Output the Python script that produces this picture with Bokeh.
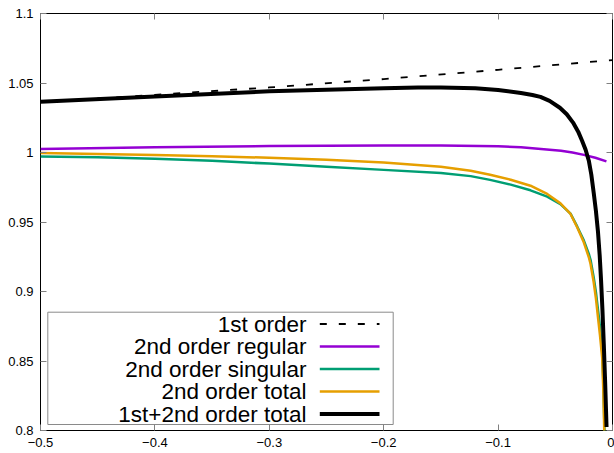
from bokeh.plotting import figure
from bokeh.models import Range1d, LinearAxis, FixedTicker, CustomJSTickFormatter
from bokeh.embed import file_html
from bokeh.resources import INLINE
from bokeh.core.properties import value

# ---------------- data ----------------
first_x = [-0.5, -0.4, -0.3, -0.2, -0.1, 0.0]
first_y = [1.0362, 1.0415, 1.0468, 1.0528, 1.0595, 1.0665]

reg_x = [-0.5, -0.4, -0.3, -0.2, -0.15, -0.1, -0.08, -0.06, -0.045, -0.035,
         -0.025, -0.015, -0.0053]
reg_y = [1.0025, 1.0037, 1.0046, 1.0051, 1.0051, 1.0045, 1.0037, 1.0024, 1.0012,
         1.0000, 0.9983, 0.9962, 0.9936]

sing_x = [-0.5, -0.45, -0.4, -0.35, -0.3, -0.25, -0.2, -0.15, -0.124, -0.107,
          -0.089, -0.0717, -0.0571, -0.0455, -0.0367, -0.0309, -0.0251, -0.0207,
          -0.0192, -0.0165, -0.0145, -0.0125, -0.011, -0.009, -0.008, -0.0072,
          -0.0053]
sing_y = [0.9972, 0.9965, 0.9955, 0.9940, 0.9920, 0.9898, 0.9875, 0.9852, 0.9830,
          0.9803, 0.9769, 0.9728, 0.9682, 0.9628, 0.9560, 0.9468, 0.9368, 0.9270,
          0.9228, 0.9105, 0.8995, 0.8855, 0.8750, 0.8570, 0.8340, 0.8070, 0.7400]

tot2_x = [-0.5, -0.45, -0.4, -0.35, -0.3, -0.25, -0.2, -0.15, -0.124, -0.107,
          -0.089, -0.0717, -0.0571, -0.0455, -0.0367, -0.0309, -0.0251, -0.0207,
          -0.0192, -0.0165, -0.0145, -0.0125, -0.011, -0.009, -0.008, -0.0072,
          -0.0053]
tot2_y = [0.9996, 0.9990, 0.9982, 0.9973, 0.9962, 0.9948, 0.9928, 0.9898, 0.9869,
          0.9840, 0.9804, 0.9761, 0.9702, 0.9634, 0.9558, 0.9462, 0.9354, 0.9246,
          0.9198, 0.9070, 0.8950, 0.8800, 0.8690, 0.8520, 0.8280, 0.8000, 0.7300]

tot12_x = [-0.5, -0.4, -0.3, -0.25, -0.2, -0.17, -0.15, -0.12, -0.1, -0.08, -0.07,
           -0.063, -0.055, -0.046, -0.04, -0.0345, -0.03, -0.0266, -0.0235,
           -0.0207, -0.0185, -0.0163, -0.0145, -0.0127, -0.0112, -0.0100, -0.0088,
           -0.0076, -0.0064, -0.0052]
tot12_y = [1.0365, 1.0403, 1.0440, 1.0452, 1.0462, 1.0467, 1.0468, 1.0462, 1.0450,
           1.0428, 1.0414, 1.0400, 1.0372, 1.0322, 1.0275, 1.0215, 1.0150, 1.0085,
           1.0020, 0.9941, 0.9840, 0.9702, 0.9580, 0.9430, 0.9260, 0.9080, 0.8870,
           0.8620, 0.8340, 0.8025]

series_labels = ["1st order", "2nd order regular", "2nd order singular",
                 "2nd order total", "1st+2nd order total"]
x_ticks = [-0.5, -0.4, -0.3, -0.2, -0.1, 0.0]
y_ticks = [0.8, 0.85, 0.9, 0.95, 1.0, 1.05, 1.1]

# ---------------- styles ----------------
colors = ["black", "#9400D3", "#009E73", "#E69F00", "black"]
widths = [1.8, 2.5, 2.5, 2.5, 4]
dashes = ["7 12", "solid", "solid", "solid", "solid"]

W, H = 614, 453
ML, MR, MT, MB = 40, 2, 13, 23
FW, FH = W - ML - MR, H - MT - MB

p = figure(width=W, height=H, x_range=Range1d(-0.5, 0.0), y_range=Range1d(0.8, 1.1),
           output_backend="svg", toolbar_location=None,
           min_border_left=ML, min_border_right=MR, min_border_top=MT,
           min_border_bottom=MB)
p.grid.visible = False
p.outline_line_color = "black"
p.outline_line_width = 1
p.background_fill_color = "white"
p.border_fill_color = "white"

fmt = CustomJSTickFormatter(code="""
const s = (Math.round(tick*100)/100).toString();
return s.replace('-', '\u2212');
""")

def style_axis(ax, ticks, show_labels, standoff):
    ax.ticker = FixedTicker(ticks=ticks)
    ax.axis_line_color = None
    ax.major_tick_in = 6
    ax.major_tick_out = 0
    ax.minor_tick_line_color = None
    ax.major_tick_line_color = "#808080"
    ax.major_tick_line_width = 1
    if show_labels:
        ax.formatter = fmt
        ax.major_label_text_font = "Liberation Sans"
        ax.major_label_text_font_size = "13px"
        ax.major_label_text_color = "black"
        ax.major_label_standoff = standoff
    else:
        ax.major_label_overrides = {t: "" for t in ticks}
        ax.major_label_text_font_size = "0px"
        ax.major_label_standoff = 0

style_axis(p.xaxis[0], x_ticks, True, 7)
style_axis(p.yaxis[0], y_ticks, True, 7)

top_ax = LinearAxis()
right_ax = LinearAxis()
style_axis(top_ax, x_ticks, False, 0)
style_axis(right_ax, y_ticks, False, 0)
p.add_layout(top_ax, "above")
p.add_layout(right_ax, "right")

xs = [first_x, reg_x, sing_x, tot2_x, tot12_x]
ys = [first_y, reg_y, sing_y, tot2_y, tot12_y]
for x, y, c, w, d in zip(xs, ys, colors, widths, dashes):
    p.line(x, y, line_color=c, line_width=w, line_dash=d, line_join="round")

# ---------------- gnuplot-style key (frame pixel coordinates) ----------------
p.extra_x_ranges = {"px": Range1d(0, FW)}
p.extra_y_ranges = {"py": Range1d(FH, 0)}

box_l, box_r, box_t, box_b = 7.3, 352.7, 298.7, 411.0
text_r = 266
samp_l, samp_r = 279.3, 339
row0, row_step = 310.5, 22.5

p.quad(left=[box_l], right=[box_r], top=[box_t], bottom=[box_b],
       fill_color="white", line_color="#8a8a8a", line_width=1,
       x_range_name="px", y_range_name="py")
rows = [row0 + i * row_step for i in range(len(series_labels))]
p.text(x=[text_r] * len(rows), y=rows, text=series_labels,
       text_align="right", text_baseline="middle",
       text_font=value("Liberation Sans"), text_font_size="22.5px",
       text_color="black", x_range_name="px", y_range_name="py")
for r, c, w, d in zip(rows, colors, widths, dashes):
    p.segment(x0=[samp_l], y0=[r], x1=[samp_r], y1=[r], line_color=c,
              line_width=w, line_dash=d, x_range_name="px", y_range_name="py")

open("out.html", "w").write(file_html(p, INLINE))
